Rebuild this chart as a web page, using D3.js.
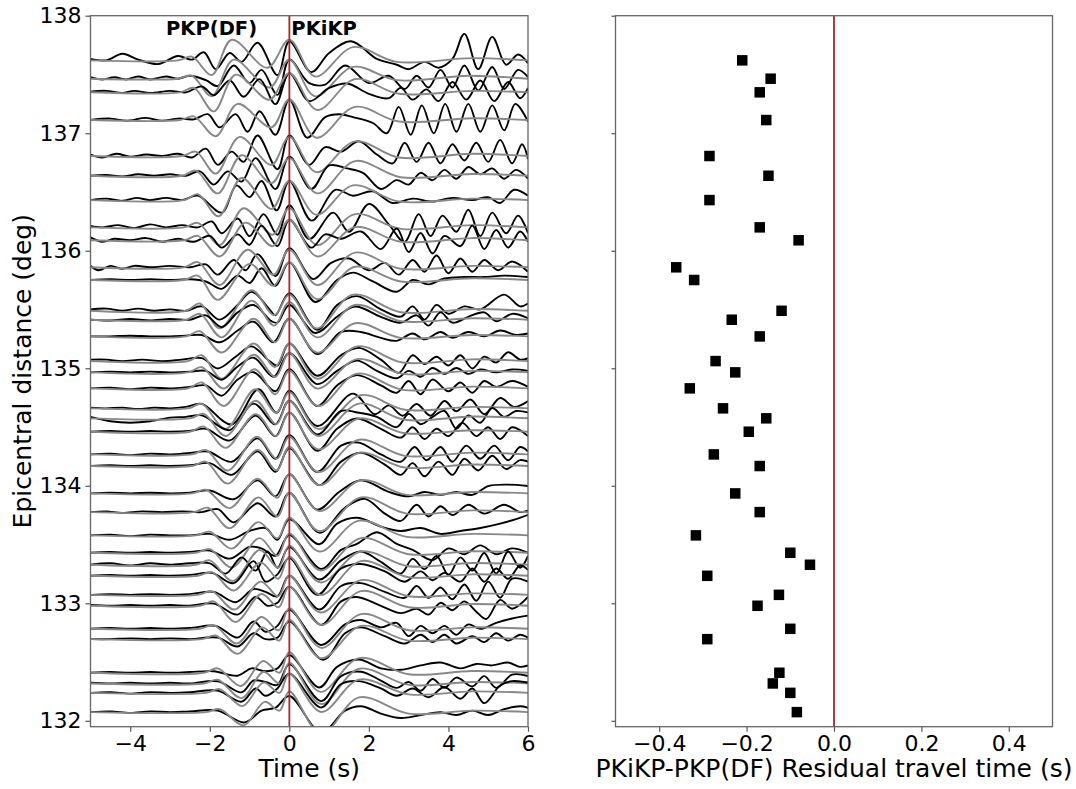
<!DOCTYPE html>
<html>
<head>
<meta charset="utf-8">
<script src="https://cdn.jsdelivr.net/npm/d3@7"></script>
<style>
  body { margin: 0; background: #fff; }
  text { font-family: "DejaVu Sans", sans-serif; fill: #000; }
</style>
</head>
<body>
<svg id="chart" width="1076" height="789"></svg>
<script>
// epicentral distance of each station (deg), top to bottom
var distances = [137.620, 137.464, 137.348, 137.112, 136.806, 136.638, 136.431, 136.199, 136.089,
  135.859, 135.751, 135.489, 135.413, 135.271, 135.061, 134.965, 134.829, 134.659, 134.574,
  134.460, 134.267, 134.168, 133.935, 133.776, 133.578, 133.430, 133.328, 133.234, 133.072,
  132.979, 132.783, 132.695, 132.409, 132.318, 132.238, 132.074];

// PKiKP-PKP(DF) residual for each station (s)
var residuals = [-0.210, -0.145, -0.170, -0.155, -0.285, -0.150, -0.285, -0.170, -0.081,
  -0.361, -0.320, -0.120, -0.234, -0.170, -0.271, -0.226, -0.330, -0.254, -0.155,
  -0.195, -0.275, -0.170, -0.226, -0.170, -0.316, -0.100, -0.055, -0.290, -0.126,
  -0.175, -0.100, -0.290, -0.125, -0.140, -0.100, -0.085];

// observed traces: pairs of time (s), amplitude (relative units)
var observed = [
  [-5,0.1,-4.6,0,-4.2,0.45,-3.8,0.05,-3.3,-0.25,-2.8,0.3,-2.45,0.05,-2.15,0.55,-1.85,-0.6,-1.5,0.5,-1.2,-0.1,-0.8,1.2,-0.3,-1.0,0,1.3,0.55,-0.8,1.0,0.5,1.55,1.3,2.2,0.1,2.7,-0.3,3.0,-0.6,3.4,-0.1,3.75,-0.5,4.1,0.1,4.4,1.8,4.75,-0.6,5.1,1.6,5.45,-0.3,5.75,0.4,6,-0.2],
  [-5,0.1,-4.7,-0.05,-4.4,0.1,-4.1,-0.05,-3.8,0.15,-3.5,-0.05,-3.1,0.15,-2.8,0,-2.5,0.2,-2.1,-0.1,-1.8,-0.5,-1.4,0.9,-1.0,-0.3,-0.7,0.6,-0.3,-1.1,0,1.3,0.5,-0.3,0.9,-0.4,1.4,0.9,2.0,-0.3,2.5,0.2,2.9,-0.7,3.2,0.2,3.5,-0.6,3.8,0.6,4.1,-0.6,4.4,0.9,4.75,-0.8,5.1,0.8,5.4,-0.7,5.75,0.6,6,0.1],
  [-5,0.05,-4.6,0.1,-4.2,-0.05,-3.9,0.1,-3.5,-0.05,-3.0,0.1,-2.6,0,-2.2,0.4,-1.9,-0.2,-1.5,0.8,-1.15,-0.3,-0.75,0.9,-0.35,-0.8,0,1.3,0.5,-0.6,1.0,0.3,1.45,0.6,2.0,-0.1,2.5,-0.4,2.8,0.3,3.1,-0.5,3.45,0.2,3.75,-0.6,4.1,0.7,4.45,-0.5,4.8,0.8,5.15,-0.6,5.5,0.7,5.8,-0.4,6,0.3],
  [-5,0,-4.5,0.1,-4.1,-0.05,-3.6,0.15,-3.2,-0.05,-2.8,0.1,-2.4,0.05,-2.05,0.4,-1.75,-0.5,-1.35,0.4,-1.05,-0.8,-0.75,0.6,-0.35,-1.0,0,1.4,0.45,-1.2,0.9,0.2,1.25,0.4,1.6,0.2,2.1,-0.2,2.45,-0.9,2.75,0.9,3.05,-1.0,3.33,1.0,3.63,-0.9,3.92,1.1,4.2,-0.8,4.5,1.1,4.8,-0.8,5.1,1.0,5.4,-0.7,5.68,1.1,6,-0.1],
  [-5,0.1,-4.7,-0.1,-4.35,0.15,-4.0,-0.05,-3.6,0.1,-3.2,0,-2.8,0.15,-2.45,-0.1,-2.1,0.5,-1.8,-0.6,-1.45,0.3,-1.15,-0.4,-0.8,1.4,-0.3,-0.9,0,1.4,0.5,-0.6,0.9,0.6,1.3,0.3,1.75,1.0,2.2,0.1,2.6,-0.5,2.9,0.9,3.2,-0.4,3.5,0.9,3.8,-0.5,4.1,0.8,4.4,-0.3,4.7,0.9,5.0,-0.4,5.3,1.1,5.6,-0.5,5.85,0.8,6,-0.2],
  [-5,0,-4.6,0.05,-4.2,-0.05,-3.8,0.1,-3.4,0,-3.0,0.1,-2.6,0,-2.25,0.3,-1.9,-0.6,-1.55,0.3,-1.2,-0.4,-0.85,1.2,-0.35,-0.9,0,1.3,0.55,-0.9,1.0,0.7,1.45,0.5,1.85,0.2,2.3,-0.9,2.7,-0.3,3.0,-0.6,3.3,0.2,3.6,-0.3,3.9,0.4,4.2,-0.2,4.5,0.6,4.8,0.1,5.1,0.5,5.4,-0.2,5.7,0.4,6,-0.2],
  [-5,0,-4.6,0.1,-4.2,-0.05,-3.85,0.15,-3.5,0,-3.1,0.15,-2.7,0,-2.3,0.3,-1.7,-0.85,-1.33,1.0,-1.0,0.2,-0.7,1.3,-0.32,-0.7,0,1.3,0.56,-1.4,1.15,0.7,1.6,0.3,2.1,0.6,2.6,-0.2,3.1,0.1,3.6,-0.1,4.1,0.15,4.6,0,5.0,0.2,5.3,-0.2,5.65,0.7,6,0.3],
  [-5,0.1,-4.7,0,-4.3,0.15,-3.9,-0.05,-3.5,0.2,-3.1,0,-2.7,0.15,-2.3,0,-1.95,0.4,-1.7,-0.4,-1.3,0.6,-1.0,-0.6,-0.65,0.9,-0.3,-0.5,0,1.5,0.5,-0.8,1.1,1.0,1.5,-0.3,2.0,1.6,2.5,0.2,2.9,-1.0,3.25,0.9,3.55,-0.6,3.85,0.8,4.2,-0.3,4.5,1.2,4.8,-0.6,5.1,1.0,5.45,-0.4,5.75,0.8,6,-0.4],
  [-5,0.2,-4.7,-0.1,-4.4,0.1,-4.0,0,-3.6,0.15,-3.2,-0.1,-2.8,0.1,-2.4,-0.1,-2.0,0.3,-1.7,-0.5,-1.3,0.4,-1.0,-0.3,-0.7,1.0,-0.3,-0.4,0,1.4,0.55,-0.5,0.9,0.4,1.3,0.1,1.8,0.6,2.3,-0.6,2.7,0.8,3.0,-0.8,3.3,0.5,3.6,-0.9,3.9,0.3,4.3,-0.4,4.6,1.0,4.9,-0.6,5.2,0.7,5.5,-0.5,5.8,0.6,6,-0.1],
  [-5,0.1,-4.8,-0.2,-4.5,0.1,-4.2,-0.1,-3.9,0.1,-3.5,0,-3.0,0.1,-2.5,0,-2.1,0.2,-1.8,-0.5,-1.4,0.5,-1.1,-0.2,-0.8,0.9,-0.35,-0.6,0,1.3,0.6,-0.8,1.05,0.3,1.5,0.6,2.0,-0.2,2.4,0.3,2.75,-0.5,3.1,0.5,3.4,-0.3,3.7,0.8,4.0,-0.4,4.3,0.6,4.6,-0.3,4.9,0.5,5.25,-0.2,5.6,0.4,6,-0.3],
  [-5,0,-4.5,0.05,-4.0,0,-3.5,0.05,-3.0,0,-2.5,0.05,-2.1,-0.1,-1.7,-0.6,-1.3,0.3,-1.0,-0.2,-0.7,0.8,-0.35,-0.4,0,1.2,0.65,-1.5,1.2,0.0,1.6,0.5,2.1,-0.1,2.7,-0.8,3.1,0.0,3.5,-0.3,3.9,0.1,4.4,0.2,4.9,0.2,5.4,0.3,6,0.2],
  [-5,0.1,-4.6,0.15,-4.2,0,-3.8,0.15,-3.4,0,-3.0,0.1,-2.6,0,-2.2,0.3,-1.75,-0.6,-1.3,0.4,-0.95,1.3,-0.5,0.1,-0.35,-0.3,0,1.2,0.7,-1.3,1.2,0.4,1.7,1.0,2.3,0.1,2.8,-0.4,3.1,0.3,3.4,-0.6,3.7,0.4,4.0,-0.2,4.4,0.3,4.8,0.1,5.4,1.1,5.8,0.3,6,0.5],
  [-5,0,-4.5,-0.05,-4.0,0.05,-3.5,-0.05,-3.0,0.05,-2.5,0,-2.1,0.3,-1.7,-0.5,-1.3,0.5,-0.9,1.0,-0.45,-0.1,-0.3,-0.2,0,1.0,0.65,-0.9,1.2,0.2,1.65,0.9,2.3,0.2,2.8,-0.2,3.2,0.3,3.5,-0.4,3.8,0.5,4.1,-0.2,4.5,0.2,4.9,0.5,5.2,-0.1,5.6,0.4,6,0.1],
  [-5,0,-4.5,0,-4.0,0.05,-3.5,0,-3.0,0,-2.6,0.05,-2.2,0.1,-1.75,-0.4,-1.3,0.4,-0.9,1.0,-0.4,-0.4,0,1.2,0.7,-1.2,1.3,0.3,1.8,0.3,2.3,-0.1,2.7,-0.3,3.1,0.2,3.4,-0.2,3.8,0.3,4.1,-0.1,4.5,0.3,4.9,0.0,5.3,0.4,5.7,0.1,6,0.2],
  [-5,0.1,-4.6,0.1,-4.2,0,-3.7,0.1,-3.2,0,-2.7,0.1,-2.2,0.2,-1.8,-0.5,-1.35,0.3,-0.95,1.0,-0.5,0.0,-0.3,-0.3,0,1.2,0.7,-1.0,1.3,0.4,1.75,0.9,2.3,0.1,2.75,-0.8,3.1,0.4,3.4,-0.2,3.7,0.3,4.0,-0.3,4.3,0.4,4.6,-0.5,4.9,0.3,5.2,-0.1,5.5,0.6,5.8,0.1,6,0.2],
  [-5,0,-4.5,0.05,-4.0,0,-3.5,0.05,-3.0,0,-2.5,0.05,-2.1,0.1,-1.7,-0.5,-1.3,0.4,-0.9,1.0,-0.4,-0.3,0,1.3,0.7,-0.8,1.2,0.1,1.7,0.8,2.2,0.1,2.7,-0.4,3.0,0.1,3.3,-0.3,3.6,0.3,3.9,-0.1,4.2,0.3,4.5,-0.1,4.8,0.2,5.2,0.0,5.6,0.2,6,0.1],
  [-5,0,-4.5,0.05,-4.0,-0.05,-3.5,0.05,-3.0,0,-2.5,0.1,-2.1,0.2,-1.7,-0.5,-1.3,0.6,-0.9,1.1,-0.35,-0.2,0,1.3,0.7,-1.2,1.2,0.2,1.7,0.9,2.3,0.2,2.7,-0.3,3.0,0.5,3.3,-0.4,3.6,0.6,4.0,-0.2,4.3,0.4,4.6,-0.3,4.9,0.5,5.2,0.1,5.6,0.5,6,0.1],
  [-5,0.05,-4.6,0,-4.2,0.05,-3.8,-0.05,-3.4,0.05,-3.0,0,-2.6,0.1,-2.2,0.3,-1.45,-1.1,-0.78,1.3,-0.32,-0.3,0,1.2,0.7,-1.2,1.6,1.0,2.15,-0.4,2.5,0.2,2.85,-0.5,3.2,0.3,3.55,-0.5,3.9,0.5,4.2,-0.2,4.55,0.6,4.9,-0.4,5.3,0.7,5.65,0.1,6,0.5],
  [-5,0.1,-4.5,-0.2,-4.0,-0.3,-3.5,-0.2,-3.0,0.05,-2.6,0.1,-2.2,0.2,-1.5,-0.8,-0.9,1.0,-0.35,-0.4,0,1.2,0.7,-1.1,1.3,0.5,1.7,0.4,2.2,0.1,2.7,-0.6,3.0,0.3,3.3,-0.4,3.6,0.1,3.9,0.5,4.2,-0.7,4.5,0.2,4.8,-0.3,5.1,0.7,5.4,0.1,5.7,0.5,6,0.4],
  [-5,0,-4.5,0.05,-4.0,0,-3.5,0.05,-3.0,0,-2.5,0.05,-2.1,0.2,-1.5,-0.6,-0.85,1.1,-0.35,-0.3,0,1.3,0.7,-1.3,1.2,0.2,1.7,0.9,2.3,0.2,2.8,-0.4,3.1,0.3,3.4,-0.5,3.7,0.2,4.0,-0.3,4.35,0.6,4.7,-0.3,5.0,0.3,5.3,-0.5,5.6,0.3,6,-0.3],
  [-5,0,-4.5,0.05,-4.0,-0.05,-3.5,0.05,-3.0,0,-2.5,0.1,-2.05,0.2,-1.45,-0.5,-0.8,1.1,-0.35,-0.3,0,1.3,0.7,-1.2,1.3,0.6,1.75,0.8,2.3,0.0,2.8,-0.5,3.15,0.5,3.45,-0.4,3.8,0.5,4.1,-0.5,4.45,0.6,4.8,-0.3,5.15,0.6,5.5,-0.4,5.8,0.5,6,0.2],
  [-5,0,-4.5,0.05,-4.0,0,-3.5,0.05,-3.0,0,-2.5,0.05,-2.0,0.2,-1.45,-0.6,-0.8,1.0,-0.35,-0.4,0,1.2,0.75,-1.3,1.3,0.3,1.8,0.9,2.4,0.1,2.8,-0.6,3.1,0.2,3.4,-0.7,3.75,0.3,4.1,-0.6,4.4,0.5,4.75,-0.3,5.1,0.7,5.45,-0.2,5.8,0.4,6,0.3],
  [-5,0,-4.5,0.05,-4.0,0,-3.5,0.05,-3.0,0,-2.5,0.05,-2.0,0.2,-1.4,-0.4,-0.8,0.9,-0.35,-0.2,0,1.3,0.7,-1.1,1.25,0.1,1.8,0.9,2.5,0.1,3.0,-0.2,3.4,0.1,3.8,-0.1,4.2,0.1,4.6,-0.1,5.0,0.5,5.5,0.6,6,0.5],
  [-5,0,-4.6,0.05,-4.2,-0.05,-3.7,0.05,-3.2,0,-2.7,0.05,-2.2,0,-1.8,0.2,-1.4,-0.7,-0.8,0.6,-0.35,-0.3,0,1.3,0.75,-1.4,1.4,0.3,1.9,0.9,2.4,-0.1,2.8,-0.6,3.2,0.5,3.5,-0.3,3.8,0.4,4.1,-0.2,4.5,0.5,4.9,-0.1,5.4,0.5,5.8,0.0,6,0.1],
  [-5,0,-4.5,0.05,-4.0,-0.05,-3.5,0.05,-3.0,0,-2.5,0,-2.0,0.1,-1.5,-0.3,-1.0,0.3,-0.6,0.5,-0.3,-0.3,0,1.1,0.75,-0.6,1.2,0.8,1.7,1.2,2.3,0.6,2.8,0.3,3.3,0.5,3.8,0.1,4.3,0.3,4.8,0.5,5.3,0.8,5.7,1.1,6,1.4],
  [-5,0,-4.5,0.05,-4.0,0,-3.5,0.05,-3.0,0,-2.5,0.05,-2.0,0.15,-1.5,-0.4,-1.0,0.4,-0.7,0.3,-0.35,-0.2,0,1.2,0.8,-1.1,1.3,0.2,1.7,0.6,2.2,1.4,2.7,0.6,3.1,0.2,3.6,-0.5,4.0,0.3,4.4,-0.1,4.8,0.5,5.2,-0.1,5.6,0.3,6,0.0],
  [-5,0,-4.5,0.1,-4.0,-0.05,-3.5,0.1,-3.0,0,-2.5,0.1,-2.0,0.1,-1.6,-0.6,-1.2,0.5,-0.85,-0.4,-0.55,0.9,-0.3,-0.2,0,1.2,0.75,-1.0,1.3,0.3,1.8,0.9,2.3,0.2,2.8,-0.6,3.1,0.4,3.4,-0.3,3.7,0.6,4.0,-0.7,4.3,0.5,4.6,-0.4,4.9,0.8,5.2,-0.6,5.5,0.9,5.8,-0.2,6,0.6],
  [-5,0,-4.5,0.05,-4.0,0,-3.5,0.05,-3.0,0,-2.5,0.05,-1.95,0.2,-1.4,-0.5,-0.9,1.0,-0.6,-0.4,-0.3,0.1,0,1.2,0.7,-1.3,1.3,0.5,1.8,0.8,2.4,0.3,2.9,-0.4,3.3,0.3,3.6,-0.3,3.9,0.2,4.3,-0.4,4.6,0.5,4.9,-0.4,5.2,0.5,5.5,-0.2,5.8,0.7,6,0.4],
  [-5,0,-4.5,0.05,-4.0,0,-3.5,0.05,-3.0,0,-2.5,0.05,-1.9,0.2,-1.35,-0.5,-0.9,0.4,-0.6,0.2,-0.3,-0.1,0,1.3,0.75,-1.0,1.3,0.6,1.8,0.8,2.4,0.2,2.9,-0.2,3.2,0.6,3.5,-0.2,3.8,0.5,4.1,-0.3,4.4,0.7,4.7,-0.4,5.0,0.9,5.3,-0.2,5.6,1.1,6,0.9],
  [-5,0.05,-4.5,0,-4.0,0.05,-3.5,0,-3.0,0.05,-2.5,0,-1.9,0.15,-1.3,-0.6,-0.85,0.6,-0.55,0.0,-0.3,0.2,0,1.3,0.8,-1.3,1.3,0.3,1.7,0.6,2.3,0.0,2.8,-0.5,3.2,-0.2,3.5,-0.6,3.8,0.2,4.1,-0.3,4.4,0.3,4.7,-0.4,4.95,-0.9,5.3,0.4,5.6,-0.2,6,0.6],
  [-5,0,-4.5,0.05,-4.0,0,-3.5,0.05,-3.0,0,-2.5,0.05,-1.85,0.2,-1.3,-0.6,-0.9,0.5,-0.6,-0.2,-0.3,0.2,0,1.3,0.8,-1.1,1.4,0.3,1.8,0.6,2.3,0.1,2.7,0.4,3.0,-0.5,3.3,0.2,3.6,-0.3,3.9,0.2,4.2,-0.4,4.5,0.3,4.8,0.0,5.2,0.4,5.6,0.7,6,0.9],
  [-5,0,-4.5,0,-4.0,0.05,-3.5,0,-3.0,0.05,-2.5,0,-1.8,0.1,-1.3,-0.5,-0.9,0.4,-0.6,0.0,-0.3,0.1,0,1.2,0.85,-1.4,1.4,0.4,1.8,0.8,2.4,0.2,2.9,-0.3,3.3,0.3,3.6,-0.2,3.9,0.3,4.2,-0.3,4.6,0.2,4.9,-0.2,5.2,0.4,5.5,-0.1,5.8,0.3,6,0.1],
  [-5,0,-4.5,0.05,-4.0,0,-3.5,0.05,-3.0,0,-2.5,0.05,-1.9,0.1,-1.3,-0.2,-0.95,0.3,-0.6,0.1,-0.3,0.3,0,1.2,0.75,-1.0,1.2,0.4,1.75,0.9,2.3,0.3,2.8,0.2,3.3,0.5,3.8,0.7,4.3,0.3,4.7,0.6,5.1,0.5,5.5,0.7,5.8,0.4,6,0.5],
  [-5,0.05,-4.5,0,-4.0,0.05,-3.5,0,-3.0,0.05,-2.5,0,-1.8,0.15,-1.2,-0.6,-0.9,0.2,-0.6,0.1,-0.3,-0.1,0,1.3,0.8,-1.2,1.3,0.5,1.8,0.8,2.3,0.2,2.7,-0.3,3.0,0.1,3.3,-0.5,3.6,0.3,3.9,-0.3,4.2,0.4,4.6,-0.2,4.9,0.5,5.2,-0.3,5.6,0.6,6,0.5],
  [-5,0,-4.5,0.05,-4.0,-0.05,-3.5,0.05,-3.0,0,-2.5,0.05,-1.8,0.15,-1.2,-0.6,-0.85,0.3,-0.6,-0.2,-0.3,0.3,0,1.3,0.8,-1.0,1.3,0.6,1.75,0.8,2.3,0.3,2.7,-0.2,3.1,0.3,3.5,-0.3,3.9,0.4,4.3,-0.4,4.6,0.3,4.9,-0.7,5.3,0.5,5.6,0.8,6,0.7],
  [-5,0,-4.5,0.05,-4.0,-0.05,-3.5,0.05,-3.0,0,-2.5,0.05,-1.8,0.1,-1.13,-0.7,-0.7,0.1,-0.35,0.3,0,1.1,0.8,-1.4,1.4,0.1,1.8,0.4,2.3,-0.1,2.8,-0.4,3.3,-0.2,3.8,0.0,4.2,-0.2,4.6,0.1,5.0,-0.2,5.4,0.2,5.8,0.4,6,0.3]
];

// synthetic traces: pairs of time (s), amplitude (relative units)
var synthetic = [
  [-5,0,-2.8,0,-2.45,0.25,-1.95,-1.0,-1.45,1.4,-0.55,-0.5,0,1.4,0.65,-1.1,1.6,0.9,2.7,-0.1,4.6,0.15,6,0],
  [-5,0,-2.8,0,-2.45,0.2,-1.95,-1.2,-1.4,1.3,-0.5,-0.6,0,1.3,0.65,-1.2,1.6,0.8,2.7,-0.1,4.5,0.2,6,0],
  [-5,0,-2.75,0,-2.4,0.3,-1.9,-1.3,-1.35,1.2,-0.5,-0.5,0,1.3,0.7,-1.2,1.65,0.9,2.75,-0.1,4.6,0.1,6,0],
  [-5,0,-2.75,0,-2.4,0.25,-1.85,-1.1,-1.3,1.1,-0.45,-0.5,0,1.4,0.68,-1.2,1.65,0.9,2.75,-0.1,4.6,0.12,6,0],
  [-5,0,-2.7,0,-2.35,0.3,-1.85,-1.2,-1.25,1.3,-0.45,-0.6,0,1.3,0.68,-1.1,1.65,1.0,2.75,-0.1,4.6,0.15,6,0],
  [-5,0,-2.7,0,-2.35,0.35,-1.8,-1.2,-1.2,1.4,-0.45,-0.5,0,1.2,0.7,-1.2,1.65,1.0,2.8,-0.1,4.6,0.12,6,0],
  [-5,0,-2.65,0,-2.3,0.4,-1.78,-1.1,-1.2,1.5,-0.45,-0.6,0,1.3,0.68,-1.0,1.6,1.0,2.75,-0.1,4.6,0.1,6,0],
  [-5,0,-2.65,0,-2.3,0.3,-1.75,-1.2,-1.15,1.3,-0.42,-0.5,0,1.3,0.7,-1.2,1.65,0.9,2.8,-0.1,4.6,0.15,6,0],
  [-5,0,-2.65,0,-2.3,0.3,-1.75,-1.1,-1.1,1.2,-0.42,-0.4,0,1.4,0.7,-1.1,1.65,0.9,2.8,-0.1,4.6,0.15,6,0],
  [-5,0,-2.65,0,-2.3,0.35,-1.75,-1.2,-1.05,1.2,-0.4,-0.5,0,1.2,0.7,-1.2,1.65,1.0,2.8,-0.1,4.6,0.1,6,0],
  [-5,0,-2.65,0,-2.3,0.3,-1.8,-1.35,-1.0,1.1,-0.4,-0.4,0,1.2,0.7,-1.3,1.65,0.9,2.8,-0.1,4.6,0.12,6,0],
  [-5,0,-2.6,0,-2.25,0.5,-1.75,-1.2,-0.95,1.4,-0.38,-0.3,0,1.1,0.68,-1.2,1.6,1.1,2.8,-0.1,4.6,0.12,6,0],
  [-5,0,-2.6,0,-2.25,0.4,-1.7,-1.2,-0.95,1.3,-0.38,-0.4,0,1.2,0.7,-1.2,1.65,1.0,2.8,-0.1,4.6,0.1,6,0],
  [-5,0,-2.6,0,-2.25,0.35,-1.7,-1.1,-0.9,1.2,-0.36,-0.4,0,1.2,0.7,-1.1,1.65,0.9,2.8,-0.1,4.6,0.1,6,0],
  [-5,0,-2.55,0,-2.2,0.4,-1.7,-1.2,-0.9,1.2,-0.36,-0.4,0,1.2,0.7,-1.2,1.7,1.0,2.85,-0.1,4.6,0.12,6,0],
  [-5,0,-2.55,0,-2.2,0.35,-1.65,-1.1,-0.9,1.2,-0.35,-0.3,0,1.3,0.7,-1.1,1.7,0.9,2.85,-0.1,4.6,0.1,6,0],
  [-5,0,-2.55,0,-2.2,0.4,-1.65,-1.2,-0.88,1.3,-0.35,-0.4,0,1.2,0.72,-1.2,1.7,1.0,2.85,-0.1,4.6,0.12,6,0],
  [-5,0,-2.55,0,-2.2,0.3,-1.6,-1.4,-0.86,1.3,-0.33,-0.3,0,1.1,0.73,-1.4,1.8,0.9,2.9,-0.1,4.6,0.1,6,0],
  [-5,0,-2.5,0,-2.15,0.3,-1.6,-1.2,-0.85,1.2,-0.33,-0.4,0,1.2,0.72,-1.2,1.75,1.0,2.9,-0.1,4.6,0.12,6,0],
  [-5,0,-2.5,0,-2.15,0.35,-1.6,-1.1,-0.85,1.2,-0.33,-0.3,0,1.3,0.72,-1.2,1.75,0.9,2.9,-0.1,4.6,0.1,6,0],
  [-5,0,-2.45,0,-2.1,0.3,-1.55,-1.1,-0.82,1.2,-0.32,-0.3,0,1.2,0.73,-1.2,1.75,1.0,2.9,-0.1,4.6,0.12,6,0],
  [-5,0,-2.45,0,-2.1,0.3,-1.55,-1.2,-0.8,1.1,-0.32,-0.3,0,1.3,0.75,-1.3,1.75,0.9,2.9,-0.1,4.6,0.1,6,0],
  [-5,0,-2.45,0,-2.1,0.25,-1.5,-1.0,-0.8,1.0,-0.3,-0.3,0,1.3,0.75,-1.2,1.8,0.9,2.95,-0.1,4.6,0.1,6,0],
  [-5,0,-2.4,0,-2.05,0.3,-1.5,-1.1,-0.78,1.0,-0.3,-0.3,0,1.3,0.75,-1.3,1.8,1.0,2.95,-0.1,4.6,0.12,6,0],
  [-5,0,-2.35,0,-2.0,0.25,-1.45,-0.9,-0.78,0.9,-0.3,-0.2,0,1.2,0.75,-1.1,1.75,1.0,2.95,-0.1,4.6,0.1,6,0],
  [-5,0,-2.35,0,-2.0,0.25,-1.45,-1.0,-0.75,1.0,-0.3,-0.2,0,1.3,0.78,-1.2,1.8,1.0,3.0,-0.1,4.6,0.1,6,0],
  [-5,0,-2.35,0,-2.0,0.3,-1.42,-1.1,-0.75,1.0,-0.28,-0.2,0,1.3,0.78,-1.2,1.8,0.9,3.0,-0.1,4.6,0.12,6,0],
  [-5,0,-2.3,0,-1.95,0.25,-1.4,-1.0,-0.72,0.9,-0.28,-0.2,0,1.3,0.78,-1.3,1.8,1.0,3.0,-0.1,4.6,0.1,6,0],
  [-5,0,-2.3,0,-1.95,0.25,-1.38,-1.0,-0.72,0.9,-0.28,-0.1,0,1.3,0.78,-1.2,1.8,1.0,3.0,-0.1,4.6,0.1,6,0],
  [-5,0,-2.25,0,-1.9,0.3,-1.35,-1.1,-0.7,0.8,-0.27,-0.1,0,1.3,0.8,-1.3,1.8,1.0,3.0,-0.1,4.6,0.12,6,0],
  [-5,0,-2.25,0,-1.9,0.25,-1.32,-1.0,-0.7,0.8,-0.27,-0.1,0,1.4,0.8,-1.3,1.8,1.0,3.0,-0.1,4.6,0.1,6,0],
  [-5,0,-2.2,0,-1.85,0.25,-1.3,-1.0,-0.68,0.8,-0.26,-0.1,0,1.3,0.8,-1.3,1.8,0.9,3.0,-0.1,4.6,0.1,6,0],
  [-5,0,-2.15,0,-1.8,0.3,-1.22,-0.9,-0.66,0.8,-0.25,0.0,0,1.4,0.78,-1.3,1.75,1.0,3.0,-0.1,4.6,0.12,6,0],
  [-5,0,-2.15,0,-1.8,0.25,-1.2,-1.0,-0.65,0.8,-0.25,0.0,0,1.4,0.8,-1.4,1.75,1.0,3.0,-0.1,4.6,0.1,6,0],
  [-5,0,-2.1,0,-1.75,0.25,-1.18,-0.9,-0.65,0.7,-0.25,0.0,0,1.3,0.8,-1.3,1.75,0.9,3.0,-0.1,4.6,0.1,6,0],
  [-5,0,-2.1,0,-1.75,0.2,-1.15,-0.9,-0.62,0.7,-0.25,0.1,0,1.4,0.8,-1.5,1.75,1.0,3.0,-0.1,4.6,0.1,6,0]
];

var timeTicks = [-4, -2, 0, 2, 4, 6];
var distTicks = [132, 133, 134, 135, 136, 137, 138];
var residualTicks = [-0.4, -0.2, 0.0, 0.2, 0.4];
var phaseLabels = [{name: "PKP(DF)", t: -3.1}, {name: "PKiKP", t: 0.05}];

var ampUnit = 0.125; // one amplitude unit in degrees of distance
var svg = d3.select("#chart");

var box = {top: 15.7, bottom: 726.7};
var left = {x0: 90.5, x1: 528};
var right = {x0: 615.5, x1: 1052.5};

var x = d3.scaleLinear().domain([-5, 6]).range([left.x0, left.x1]);
var y = d3.scaleLinear().domain([131.95, 138]).range([box.bottom, box.top]);
var xr = d3.scaleLinear().domain([-0.5, 0.5]).range([right.x0, right.x1]);

// turn the flat [t, a, t, a ...] lists into points
function pairs(flat, d) {
  var pts = [];
  for (var k = 0; k < flat.length; k += 2) pts.push([flat[k], d + flat[k + 1] * ampUnit]);
  return pts;
}

var line = d3.line()
  .x(function (p) { return x(p[0]); })
  .y(function (p) { return y(p[1]); })
  .curve(d3.curveCatmullRom.alpha(0.5));

svg.append("clipPath").attr("id", "clipL")
  .append("rect")
  .attr("x", left.x0).attr("y", box.top)
  .attr("width", left.x1 - left.x0).attr("height", box.bottom - box.top);

var traces = svg.append("g").attr("clip-path", "url(#clipL)");
distances.forEach(function (d, i) {
  traces.append("path")
    .attr("d", line(pairs(observed[i], d)))
    .attr("fill", "none").attr("stroke", "#000").attr("stroke-width", 1.9);
  traces.append("path")
    .attr("d", line(pairs(synthetic[i], d)))
    .attr("fill", "none").attr("stroke", "#888").attr("stroke-width", 1.9);
});

// zero time line
svg.append("line")
  .attr("x1", x(0)).attr("x2", x(0))
  .attr("y1", box.top).attr("y2", box.bottom)
  .attr("stroke", "#b22222").attr("stroke-width", 1.8);

// phase names
svg.selectAll("text.phase")
  .data(phaseLabels)
  .enter().append("text")
  .attr("class", "phase")
  .attr("x", function (d) { return x(d.t); })
  .attr("y", 35)
  .style("font-size", "19.5px")
  .style("font-weight", "bold")
  .text(function (d) { return d.name; });

// left axes
var yAxisL = d3.axisLeft(y).tickValues(distTicks).tickSize(5).tickPadding(4).tickFormat(d3.format("d"));
var gyl = svg.append("g").attr("transform", "translate(" + left.x0 + ",0)").call(yAxisL);
var xAxisL = d3.axisBottom(x).tickValues(timeTicks).tickSize(5).tickPadding(4).tickFormat(d3.format("d"));
var gxl = svg.append("g").attr("transform", "translate(0," + box.bottom + ")").call(xAxisL);

// right panel
svg.append("line")
  .attr("x1", xr(0)).attr("x2", xr(0))
  .attr("y1", box.top).attr("y2", box.bottom)
  .attr("stroke", "#b22222").attr("stroke-width", 1.8);

var sq = 10.5;
svg.selectAll("rect.res")
  .data(residuals)
  .enter().append("rect")
  .attr("class", "res")
  .attr("x", function (r) { return xr(r) - sq / 2; })
  .attr("y", function (r, i) { return y(distances[i]) - sq / 2; })
  .attr("width", sq).attr("height", sq)
  .attr("fill", "#000");

var yAxisR = d3.axisLeft(y).tickValues(distTicks).tickSize(4).tickFormat("");
var gyr = svg.append("g").attr("transform", "translate(" + right.x0 + ",0)").call(yAxisR);
var xAxisR = d3.axisBottom(xr).tickValues(residualTicks).tickSize(5).tickPadding(4).tickFormat(d3.format(".1f"));
var gxr = svg.append("g").attr("transform", "translate(0," + box.bottom + ")").call(xAxisR);

[gyl, gxl, gyr, gxr].forEach(function (g) {
  g.select(".domain").remove();
  g.selectAll(".tick line").attr("stroke", "#555").attr("stroke-width", 1.2);
  g.selectAll(".tick text").style("font-size", "22px").attr("fill", "#000");
});

// frames
[left, right].forEach(function (p) {
  svg.append("rect")
    .attr("x", p.x0).attr("y", box.top)
    .attr("width", p.x1 - p.x0).attr("height", box.bottom - box.top)
    .attr("fill", "none").attr("stroke", "#666").attr("stroke-width", 1.3);
});

// axis titles
svg.append("text")
  .attr("transform", "translate(31," + ((box.top + box.bottom) / 2) + ") rotate(-90)")
  .attr("text-anchor", "middle")
  .style("font-size", "25px")
  .text("Epicentral distance (deg)");

svg.append("text")
  .attr("x", (left.x0 + left.x1) / 2).attr("y", 777)
  .attr("text-anchor", "middle")
  .style("font-size", "25px")
  .text("Time (s)");

svg.append("text")
  .attr("x", (right.x0 + right.x1) / 2).attr("y", 777)
  .attr("text-anchor", "middle")
  .style("font-size", "25px")
  .text("PKiKP-PKP(DF) Residual travel time (s)");
</script>
</body>
</html>
